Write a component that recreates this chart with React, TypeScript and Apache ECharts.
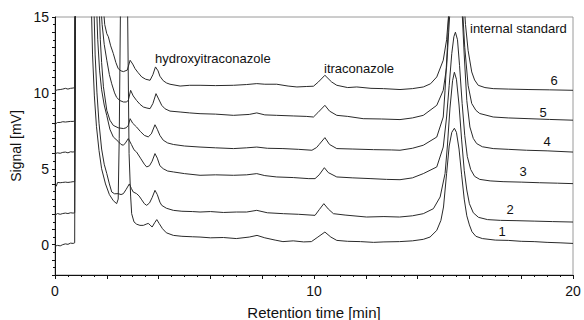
import React, { useEffect, useRef } from "react";
import * as echarts from "echarts";

type Pt = [number, number];

// Retention time [min], signal [mV]
const trace1: Pt[] = [
  [0, -0.1], [0.1, -0.05], [0.2, -0.08], [0.3, 0.0], [0.4, 0.05], [0.5, 0.02], [0.6, 0.1], [0.7, 0.08], [0.76, 0.12],
  [0.79, 20], [1.3, 20],
  [1.4, 16], [1.45, 12.5], [1.52, 9.8], [1.6, 7.8], [1.7, 6.2], [1.8, 5.0], [1.95, 4.0], [2.1, 3.3], [2.25, 2.9], [2.38, 2.7], [2.44, 3.0],
  [2.48, 7], [2.53, 16], [2.65, 24], [2.8, 16], [2.86, 6], [2.92, 3.2], [2.96, 2.04], [3.05, 1.5], [3.15, 1.35], [3.28, 1.27],
  [3.41, 1.27], [3.52, 1.35], [3.6, 1.4], [3.67, 1.3], [3.75, 1.16], [3.85, 1.45], [3.93, 1.65], [4.02, 1.4], [4.15, 1.05],
  [4.3, 0.78], [4.57, 0.61], [4.9, 0.55], [5.3, 0.52], [5.6, 0.5], [6.0, 0.45], [6.5, 0.47], [7.0, 0.4], [7.5, 0.5], [7.8, 0.61],
  [8.1, 0.45], [8.5, 0.3], [8.8, 0.2], [9.2, 0.25], [9.6, 0.18], [9.9, 0.2], [10.15, 0.5], [10.42, 0.83], [10.65, 0.5],
  [10.88, 0.28], [11.3, 0.22], [11.8, 0.2], [12.3, 0.15], [12.7, 0.18], [13.3, 0.2], [13.8, 0.25], [14.22, 0.35], [14.48, 0.5],
  [14.74, 0.94], [14.9, 1.6], [15.0, 2.48], [15.12, 4.68], [15.22, 6.5], [15.32, 7.4], [15.42, 7.67], [15.5, 7.4], [15.6, 6.3],
  [15.7, 4.6], [15.8, 3.0], [15.9, 1.9], [16.0, 1.3], [16.1, 0.85], [16.25, 0.55], [16.5, 0.4], [17.0, 0.3], [17.5, 0.28],
  [18.0, 0.22], [18.5, 0.2], [19.0, 0.15], [19.5, 0.12], [20, 0.08],
];

const trace2: Pt[] = [
  [0, 1.95], [0.1, 2.05], [0.2, 2.0], [0.3, 2.05], [0.4, 2.08], [0.5, 2.05], [0.6, 2.1], [0.7, 2.08], [0.76, 2.1],
  [0.79, 20], [1.4, 20],
  [1.5, 16], [1.55, 12.5], [1.62, 10], [1.7, 8.0], [1.8, 6.3], [1.9, 5.3], [2.0, 4.68], [2.1, 4.0], [2.19, 3.47], [2.3, 3.35],
  [2.44, 3.36], [2.55, 3.3], [2.64, 3.36], [2.75, 3.65], [2.87, 4.0], [2.95, 3.7], [3.02, 3.47], [3.15, 3.36], [3.25, 3.2],
  [3.35, 2.95], [3.45, 2.7], [3.54, 2.59], [3.65, 2.75], [3.75, 3.1], [3.86, 3.58], [3.95, 3.3], [4.05, 2.8], [4.12, 2.59],
  [4.3, 2.4], [4.57, 2.26], [4.9, 2.2], [5.3, 2.18], [5.6, 2.15], [6.0, 2.18], [6.5, 2.12], [7.0, 2.15], [7.4, 2.15],
  [7.79, 2.26], [8.2, 2.1], [8.82, 2.04], [9.4, 2.0], [10.04, 1.93], [10.2, 2.3], [10.38, 2.7], [10.55, 2.35], [10.75, 2.04],
  [11.2, 1.95], [12.03, 1.82], [12.7, 1.85], [13.3, 1.82], [13.8, 1.9], [14.22, 2.04], [14.61, 2.37], [14.87, 3.14],
  [15.06, 4.68], [15.15, 6.5], [15.25, 9.0], [15.35, 10.8], [15.42, 11.36], [15.5, 10.9], [15.6, 9.2], [15.7, 6.9], [15.8, 4.9],
  [15.9, 3.6], [16.0, 2.7], [16.15, 2.1], [16.35, 1.8], [16.7, 1.65], [17.2, 1.6], [17.8, 1.58], [18.5, 1.55], [19.2, 1.52],
  [20, 1.49],
];

const trace3: Pt[] = [
  [0, 3.8], [0.05, 3.85], [0.1, 4.1], [0.2, 4.08], [0.3, 4.1], [0.4, 4.12], [0.5, 4.1], [0.6, 4.12], [0.7, 4.15], [0.76, 4.15],
  [0.79, 20], [1.5, 20],
  [1.6, 16], [1.65, 13.5], [1.72, 11.5], [1.8, 10.2], [1.9, 9.2], [2.0, 8.5], [2.12, 7.6], [2.25, 7.1], [2.44, 6.8], [2.55, 6.6],
  [2.64, 6.55], [2.72, 6.7], [2.83, 6.99], [2.95, 6.6], [3.05, 6.25], [3.15, 6.1], [3.3, 5.7], [3.45, 5.3], [3.54, 5.12],
  [3.65, 5.2], [3.75, 5.5], [3.86, 6.0], [3.95, 5.7], [4.05, 5.2], [4.18, 5.0], [4.35, 4.85], [4.57, 4.79], [5.0, 4.68],
  [5.6, 4.57], [6.2, 4.6], [6.89, 4.57], [7.4, 4.6], [7.79, 4.68], [8.1, 4.55], [8.56, 4.46], [9.2, 4.42], [9.8, 4.35],
  [10.04, 4.35], [10.2, 4.6], [10.4, 5.07], [10.55, 4.75], [10.88, 4.46], [11.5, 4.4], [12.2, 4.35], [12.8, 4.3], [13.32, 4.28],
  [13.8, 4.4], [14.22, 4.68], [14.74, 5.12], [14.99, 6.43], [15.12, 8.41], [15.22, 10.5], [15.32, 12.6], [15.4, 13.7],
  [15.46, 14.0], [15.54, 13.5], [15.62, 11.8], [15.72, 9.3], [15.82, 7.2], [15.92, 5.8], [16.05, 4.95], [16.2, 4.5], [16.4, 4.3],
  [16.8, 4.2], [17.3, 4.15], [18.0, 4.12], [18.7, 4.08], [19.4, 4.05], [20, 4.02],
];

const trace4: Pt[] = [
  [0, 6.0], [0.1, 6.05], [0.2, 6.02], [0.3, 6.08], [0.4, 6.1], [0.5, 6.05], [0.6, 6.12], [0.7, 6.1], [0.76, 6.15],
  [0.79, 20], [1.6, 20],
  [1.7, 16], [1.75, 13.5], [1.8, 12.0], [1.87, 10.4], [2.0, 8.85], [2.12, 8.2], [2.25, 7.86], [2.44, 7.7], [2.64, 7.65],
  [2.75, 7.7], [2.83, 7.86], [2.9, 8.3], [3.0, 8.0], [3.15, 7.75], [3.3, 7.45], [3.45, 7.2], [3.6, 7.1], [3.72, 7.3], [3.86, 7.9],
  [3.95, 7.6], [4.05, 7.2], [4.18, 6.88], [4.35, 6.7], [4.57, 6.6], [5.0, 6.5], [5.6, 6.43], [6.2, 6.38], [6.89, 6.33],
  [7.4, 6.38], [7.79, 6.43], [8.2, 6.35], [8.8, 6.33], [9.4, 6.28], [9.92, 6.22], [10.1, 6.4], [10.2, 6.6], [10.42, 7.05],
  [10.6, 6.6], [10.88, 6.33], [11.5, 6.3], [12.3, 6.26], [13.0, 6.24], [13.32, 6.22], [13.8, 6.35], [14.22, 6.55], [14.74, 7.09],
  [14.99, 8.41], [15.06, 10.17], [15.15, 13.0], [15.22, 16], [15.45, 24], [15.7, 16], [15.8, 12.5], [15.9, 9.5], [16.02, 7.75],
  [16.15, 7.0], [16.28, 6.66], [16.5, 6.45], [16.92, 6.33], [17.5, 6.28], [18.2, 6.22], [19.0, 6.18], [20, 6.1],
];

const trace5: Pt[] = [
  [0, 7.9], [0.05, 8.0], [0.1, 8.05], [0.2, 8.05], [0.3, 8.1], [0.4, 8.08], [0.5, 8.1], [0.6, 8.12], [0.7, 8.12], [0.76, 8.15],
  [0.79, 20], [1.65, 20],
  [1.76, 16], [1.82, 14.5], [1.9, 13.2], [2.0, 12.15], [2.1, 11.2], [2.19, 10.6], [2.3, 10.0], [2.38, 9.7], [2.5, 9.5],
  [2.64, 9.4], [2.75, 9.4], [2.83, 9.5], [2.92, 10.17], [3.02, 9.8], [3.15, 9.5], [3.28, 9.25], [3.41, 9.07], [3.55, 9.0],
  [3.67, 8.96], [3.78, 9.3], [3.9, 9.95], [4.0, 9.6], [4.12, 9.18], [4.25, 8.95], [4.44, 8.8], [4.83, 8.74], [5.2, 8.68],
  [5.6, 8.63], [6.2, 8.6], [6.89, 8.52], [7.5, 8.58], [7.79, 8.68], [8.1, 8.55], [8.56, 8.52], [9.2, 8.48], [9.7, 8.45],
  [9.98, 8.41], [10.15, 8.7], [10.42, 9.18], [10.6, 8.8], [10.88, 8.52], [11.3, 8.45], [11.9, 8.3], [12.6, 8.28], [13.32, 8.24],
  [13.8, 8.35], [14.22, 8.52], [14.74, 9.18], [14.99, 10.17], [15.12, 11.7], [15.2, 14], [15.27, 16], [15.5, 24], [15.72, 16],
  [15.82, 13], [15.95, 10.5], [16.09, 9.3], [16.25, 8.85], [16.4, 8.64], [16.92, 8.41], [17.5, 8.35], [18.3, 8.3], [19.1, 8.25],
  [20, 8.2],
];

const trace6: Pt[] = [
  [0, 10.15], [0.1, 10.2], [0.2, 10.22], [0.3, 10.25], [0.4, 10.3], [0.5, 10.25], [0.6, 10.3], [0.7, 10.32], [0.76, 10.35],
  [0.79, 20], [1.75, 20],
  [1.85, 16], [1.92, 14.5], [2.0, 13.9], [2.06, 13.7], [2.15, 13.1], [2.25, 12.6], [2.35, 12.0], [2.44, 11.6], [2.55, 11.45],
  [2.64, 11.4], [2.79, 11.5], [2.9, 12.15], [3.0, 11.9], [3.09, 11.6], [3.2, 11.35], [3.35, 11.05], [3.5, 10.9], [3.67, 10.83],
  [3.78, 11.2], [3.88, 11.71], [3.98, 11.45], [4.05, 11.1], [4.18, 10.8], [4.31, 10.65], [4.44, 10.57], [4.83, 10.45],
  [5.2, 10.5], [5.6, 10.5], [6.2, 10.48], [6.89, 10.5], [7.4, 10.55], [7.79, 10.61], [8.1, 10.57], [8.56, 10.57], [9.0, 10.45],
  [9.34, 10.39], [9.7, 10.42], [9.98, 10.44], [10.17, 10.72], [10.42, 11.16], [10.68, 10.72], [10.88, 10.5], [11.3, 10.35],
  [11.65, 10.39], [12.2, 10.3], [12.68, 10.28], [13.32, 10.22], [13.8, 10.28], [14.22, 10.39], [14.5, 10.6], [14.74, 11.05],
  [14.99, 12.15], [15.12, 13.5], [15.2, 15.2], [15.3, 17], [15.55, 24], [15.75, 17], [15.85, 14.5], [15.95, 12.8],
  [16.09, 11.38], [16.2, 10.85], [16.34, 10.5], [16.6, 10.35], [16.92, 10.28], [17.5, 10.25], [18.3, 10.22], [19.1, 10.2],
  [20, 10.17],
];

const traces: Pt[][] = [trace1, trace2, trace3, trace4, trace5, trace6];
const traceNames = ["1", "2", "3", "4", "5", "6"];

const xLabelValues = [0, 10, 20];
const yLabelValues = [0, 5, 10, 15];

const FONT = "'Liberation Sans', Arial, Helvetica, sans-serif";

export default function App() {
  const ref = useRef<HTMLDivElement>(null);

  useEffect(() => {
    if (!ref.current) return;
    const chart = echarts.init(ref.current, undefined, { renderer: "svg" });

    const txt = (text: string, x: number, y: number, size = 13, align = "left") => ({
      type: "text",
      x,
      y,
      style: {
        text,
        fill: "#111",
        font: `${size}px ${FONT}`,
        textAlign: align,
        textVerticalAlign: "middle",
      },
      z: 100,
    });

    chart.setOption({
      animation: false,
      backgroundColor: "#fff",
      textStyle: { fontFamily: FONT },
      grid: {
        left: 55,
        right: 11,
        top: 17,
        bottom: 45,
        containLabel: false,
        outerBoundsMode: "none",
        show: true,
        borderColor: "#9a9a9a",
        borderWidth: 1,
        backgroundColor: "transparent",
      },
      xAxis: [
        {
          type: "value",
          min: 0,
          max: 20,
          interval: 2,
          name: "Retention time [min]",
          nameLocation: "middle",
          nameGap: 30,
          nameTextStyle: { fontSize: 15, color: "#111", fontFamily: FONT },
          axisLine: { show: true, onZero: false, lineStyle: { color: "#111", width: 1 } },
          axisTick: { show: true, inside: false, length: 4, lineStyle: { color: "#111" } },
          minorTick: { show: true, splitNumber: 4, length: 2, lineStyle: { color: "#111" } },
          axisLabel: {
            margin: 9,
            fontSize: 14,
            color: "#111",
            fontFamily: FONT,
            formatter: (v: number) => (xLabelValues.includes(v) ? String(v) : ""),
          },
          splitLine: { show: false },
        },
      ],
      yAxis: [
        {
          type: "value",
          min: -2,
          max: 15,
          interval: 1,
          name: "Signal [mV]",
          nameLocation: "middle",
          nameGap: 31,
          nameTextStyle: { fontSize: 14, color: "#111", fontFamily: FONT },
          axisLine: { show: true, onZero: false, lineStyle: { color: "#111", width: 1 } },
          axisTick: { show: true, inside: false, length: 3, lineStyle: { color: "#111" } },
          minorTick: { show: true, splitNumber: 2, length: 2, lineStyle: { color: "#111" } },
          axisLabel: {
            margin: 6,
            fontSize: 14,
            color: "#111",
            fontFamily: FONT,
            formatter: (v: number) => (yLabelValues.includes(v) ? String(v) : ""),
          },
          splitLine: { show: false },
        },
      ],
      series: traces.map((d, i) => ({
        name: traceNames[i],
        type: "line",
        data: d,
        showSymbol: false,
        symbol: "none",
        clip: true,
        smooth: false,
        lineStyle: { color: "#2a2a2a", width: 1 },
        z: 2,
      })),
      graphic: [
        txt("hydroxyitraconazole", 155, 58),
        txt("itraconazole", 324, 68),
        txt("internal standard", 470, 28),
        txt("6", 554, 80, 13, "center"),
        txt("5", 543, 112, 13, "center"),
        txt("4", 547, 141, 13, "center"),
        txt("3", 523, 171, 13, "center"),
        txt("2", 510, 209, 13, "center"),
        txt("1", 502, 231, 13, "center"),
      ],
    });

    return () => chart.dispose();
  }, []);

  return (
    <div
      ref={ref}
      style={{ position: "fixed", left: 0, top: 0, width: 584, height: 320, background: "#fff" }}
    />
  );
}
